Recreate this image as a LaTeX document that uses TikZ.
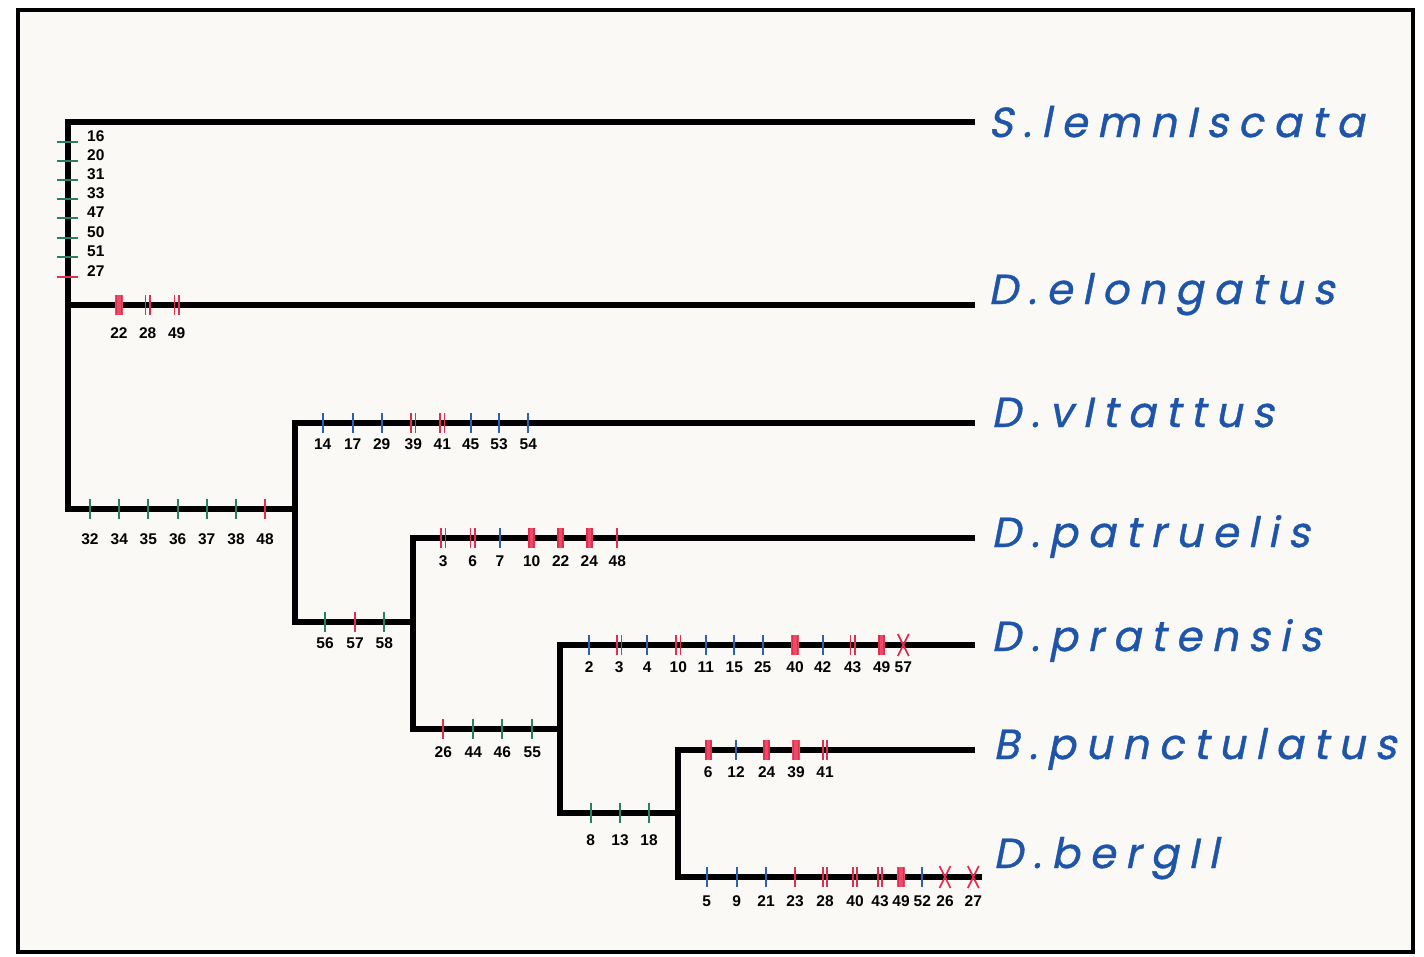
\documentclass[tikz,border=0pt]{standalone}
\usepackage{fontspec}
\setmainfont{Liberation Sans}
\newfontfamily\spfont{Poppins}[FakeSlant=0.2,FakeBold=0.9,LetterSpace=23]
\definecolor{tgreen}{RGB}{40,128,100}
\definecolor{tblue}{RGB}{45,95,180}
\definecolor{tred}{RGB}{228,45,78}
\definecolor{spblue}{RGB}{30,85,168}
\definecolor{paper}{RGB}{250,249,246}

% character-change marks on a horizontal branch at (x,y)
\newcommand\mkg[2]{\draw[tk,tgreen] (#1,#2-10) -- (#1,#2+10);}
\newcommand\mkb[2]{\draw[tk,tblue] (#1,#2-10) -- (#1,#2+10);}
\newcommand\mkr[2]{\draw[tk,tred] (#1,#2-10) -- (#1,#2+10);}
\newcommand\mkd[2]{\draw[tk,tred] (#1-2.3,#2-10) -- (#1-2.3,#2+10) (#1+2.3,#2-10) -- (#1+2.3,#2+10);}
\newcommand\mkt[2]{\fill[tred!85] (#1-3.6,#2-10) rectangle (#1+3.6,#2+10);
  \draw[tk,tred] (#1-2.6,#2-10) -- (#1-2.6,#2+10) (#1+2.6,#2-10) -- (#1+2.6,#2+10);}
\newcommand\mkx[2]{\draw[tk,tred] (#1-5.5,#2-11) -- (#1+5.5,#2+11) (#1+5.5,#2-11) -- (#1-5.5,#2+11);}
% a row of marks with their numbers: name, branch y, number y, list x/kind/number
\newcommand\markrow[4]{%
  \foreach \px/\kd/\lb in {#4}{%
    \csname mk\kd\endcsname{\px}{#2}%
    \node[num] (#1-\lb) at (\px,#3) {\lb};
  }}

\begin{document}
\begin{tikzpicture}[x=1pt,y=-1pt,
  branch/.style={line width=5.5pt,line join=miter},
  tk/.style={line width=1.7pt},
  num/.style={font=\fontsize{15.5}{15.5}\selectfont\bfseries,inner sep=0pt},
  taxon/.style={font=\spfont\fontsize{42}{42}\selectfont,text=spblue,anchor=base west,inner sep=0pt}]
\useasboundingbox (0,0) rectangle (1424,956);
\fill[white] (0,0) rectangle (1424,956);
\fill[paper] (18,10) rectangle (1413,952);
\draw[line width=3.5pt] (18,10) rectangle (1413,952);

% branch tips
\coordinate (lem) at (975,122);
\coordinate (elo) at (975,305);
\coordinate (vit) at (975,423);
\coordinate (pat) at (975,538);
\coordinate (pra) at (975,645);
\coordinate (pun) at (975,750);
\coordinate (ber) at (982,877);
% internal vertical lines
\coordinate (a1) at (68,122);  \coordinate (a2) at (68,509);  \coordinate (ae) at (68,305);
\coordinate (b0) at (295,509); \coordinate (b1) at (295,423); \coordinate (b2) at (295,622);
\coordinate (c0) at (413,622); \coordinate (c1) at (413,538); \coordinate (c2) at (413,729);
\coordinate (d0) at (560,729); \coordinate (d1) at (560,645); \coordinate (d2) at (560,813);
\coordinate (e0) at (678,813); \coordinate (e1) at (678,750); \coordinate (e2) at (678,877);

\draw[branch] (lem) -- (a1) -- (a2) -- (b0);
\draw[branch] (elo) -- (ae);
\draw[branch] (vit) -- (b1) -- (b2) -- (c0);
\draw[branch] (pat) -- (c1) -- (c2) -- (d0);
\draw[branch] (pra) -- (d1) -- (d2) -- (e0);
\draw[branch] (pun) -- (e1) -- (e2) -- (ber);

% taxa
\node[taxon] (tlem) at (988,137) {S.lemnIscata};
\node[taxon] (telo) at (988,304) {D.elongatus};
\node[taxon] (tvit) at (991,427) {D.vItattus};
\node[taxon] (tpat) at (991,547) {D.patruelis};
\node[taxon] (tpra) at (991,651) {D.pratensis};
\node[taxon] (tpun) at (993,759) {B.punctulatus};
\node[taxon] (tber) at (993,868) {D.bergIl};

% marks on the root stem
\foreach \ty/\cl/\lb in {142/tgreen/16,161/tgreen/20,180/tgreen/31,199/tgreen/33,
    218/tgreen/47,238/tgreen/50,257/tgreen/51,277/tred/27}{%
  \draw[tk,\cl] (57,\ty) -- (78,\ty);
  \node[num,anchor=west] (root-\lb) at (87,\ty-6) {\lb};
}

\markrow{elo}{305}{333}{119/t/22,147.7/d/28,176.7/d/49}
\markrow{vit}{423}{444}{322.7/b/14,352.7/b/17,381.7/b/29,413.3/d/39,442.3/d/41,470.7/b/45,499/b/53,528.3/b/54}
\markrow{bvc}{509}{539}{90/g/32,119.3/g/34,148.3/g/35,177.7/g/36,206.7/g/37,236/g/38,265/r/48}
\markrow{pat}{538}{561}{443.3/d/3,472.7/d/6,500/b/7,531.7/t/10,560.7/t/22,589.3/t/24,617.3/r/48}
\markrow{cvd}{622}{643}{325/g/56,355/r/57,384.3/g/58}
\markrow{dve}{729}{752}{443.3/r/26,473.3/g/44,502.3/g/46,532.3/g/55}
\markrow{pra}{645}{667}{589.3/b/2,619.3/d/3,647.3/b/4,678.3/d/10,705.7/b/11,734.3/b/15,762.7/b/25,795/t/40,822.7/b/42,852.7/d/43,881.7/t/49,903.3/x/57}
\markrow{pun}{750}{772}{708.3/t/6,736/b/12,766.7/t/24,796/t/39,825/d/41}
\markrow{evf}{813}{840}{590.7/g/8,620/g/13,649/g/18}
\markrow{ber}{877}{901}{706.7/b/5,736.7/b/9,766/b/21,795/r/23,825/d/28,855/d/40,880/d/43,901/t/49,922.3/b/52,945/x/26,973.3/x/27}
\end{tikzpicture}
\end{document}
